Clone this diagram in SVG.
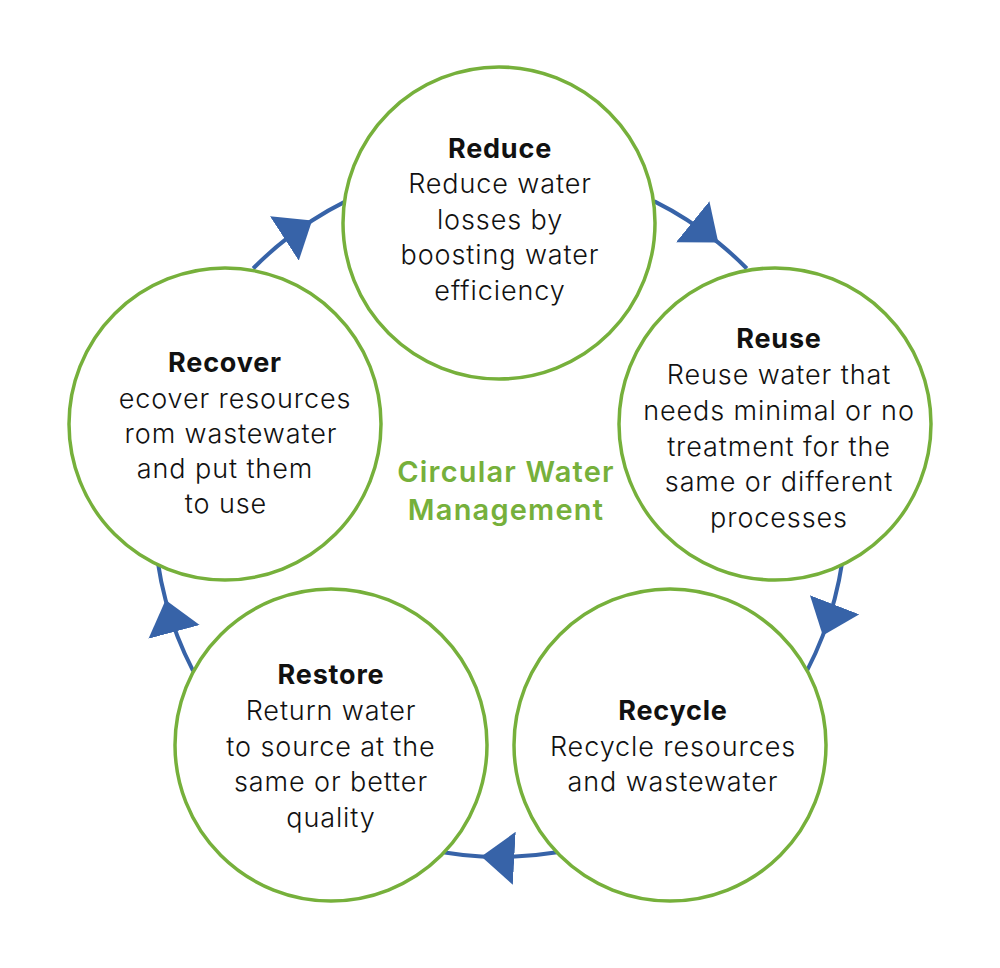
<svg xmlns="http://www.w3.org/2000/svg" width="1000" height="968" viewBox="0 0 1000 968">
<style>
.node{fill:#ffffff;stroke:#76b03b;stroke-width:3.5}
.conn{fill:none;stroke:#3763a8;stroke-width:4;marker-mid:url(#tri)}
text{font-family:Inter,"Noto Sans","Liberation Sans",sans-serif;font-size:27px;font-weight:300;letter-spacing:0.9px;fill:#111111;text-anchor:middle}
.t{font-weight:700;font-size:27px;letter-spacing:0.8px}
.c{font-weight:600;font-size:29px;letter-spacing:1.2px;fill:#76b03b}
</style>
<defs>
<marker id="tri" markerUnits="userSpaceOnUse" viewBox="0 0 33 53" refX="33" refY="26.5" markerWidth="33" markerHeight="53" orient="auto">
<polygon points="0,0 33,26.5 0,53" fill="#3763a8"/>
</marker>
</defs>
<rect width="1000" height="968" fill="#ffffff"/>
<g id="connectors">
<path class="conn" d="M654.4,201.4 A346,346 0 0 1 718.3,242.6 A346,346 0 0 1 746.8,268.5"/>
<path class="conn" d="M842.2,562.1 A346,346 0 0 1 822.8,635.6 A346,346 0 0 1 806.9,670.8"/>
<path class="conn" d="M557.1,852.3 A346,346 0 0 1 481.3,856.5 A346,346 0 0 1 442.9,852.3"/>
<path class="conn" d="M193.1,670.8 A346,346 0 0 1 165.6,600.0 A346,346 0 0 1 157.8,562.1"/>
<path class="conn" d="M253.2,268.5 A346,346 0 0 1 312.1,220.5 A346,346 0 0 1 345.6,201.4"/>
</g>
<g id="reduce">
<circle class="node" cx="499" cy="223" r="156"/>
<text class="t" x="500" y="158">Reduce</text>
<text x="500" y="193">Reduce water</text>
<text x="500" y="229">losses by</text>
<text x="500" y="264">boosting water</text>
<text x="500" y="300">efficiency</text>
</g>
<g id="reuse">
<circle class="node" cx="775" cy="424" r="156"/>
<text class="t" x="779" y="348">Reuse</text>
<text x="779" y="384">Reuse water that</text>
<text x="779" y="420">needs minimal or no</text>
<text x="779" y="456">treatment for the</text>
<text x="779" y="491">same or different</text>
<text x="779" y="527">processes</text>
</g>
<g id="recycle">
<circle class="node" cx="670" cy="745" r="156"/>
<text class="t" x="673" y="720">Recycle</text>
<text x="673" y="756">Recycle resources</text>
<text x="673" y="791">and wastewater</text>
</g>
<g id="restore">
<circle class="node" cx="331" cy="745" r="156"/>
<text class="t" x="331" y="684">Restore</text>
<text x="331" y="720">Return water</text>
<text x="331" y="756">to source at the</text>
<text x="331" y="791">same or better</text>
<text x="331" y="827">quality</text>
</g>
<g id="recover">
<circle class="node" cx="225" cy="424" r="156"/>
<text class="t" x="225" y="372">Recover</text>
<text x="235" y="408">ecover resources</text>
<text x="231" y="443">rom wastewater</text>
<text x="225" y="478">and put them</text>
<text x="226" y="513">to use</text>
</g>
<g id="title">
<text class="c" x="506" y="482">Circular Water</text>
<text class="c" x="506" y="520">Management</text>
</g>
</svg>
